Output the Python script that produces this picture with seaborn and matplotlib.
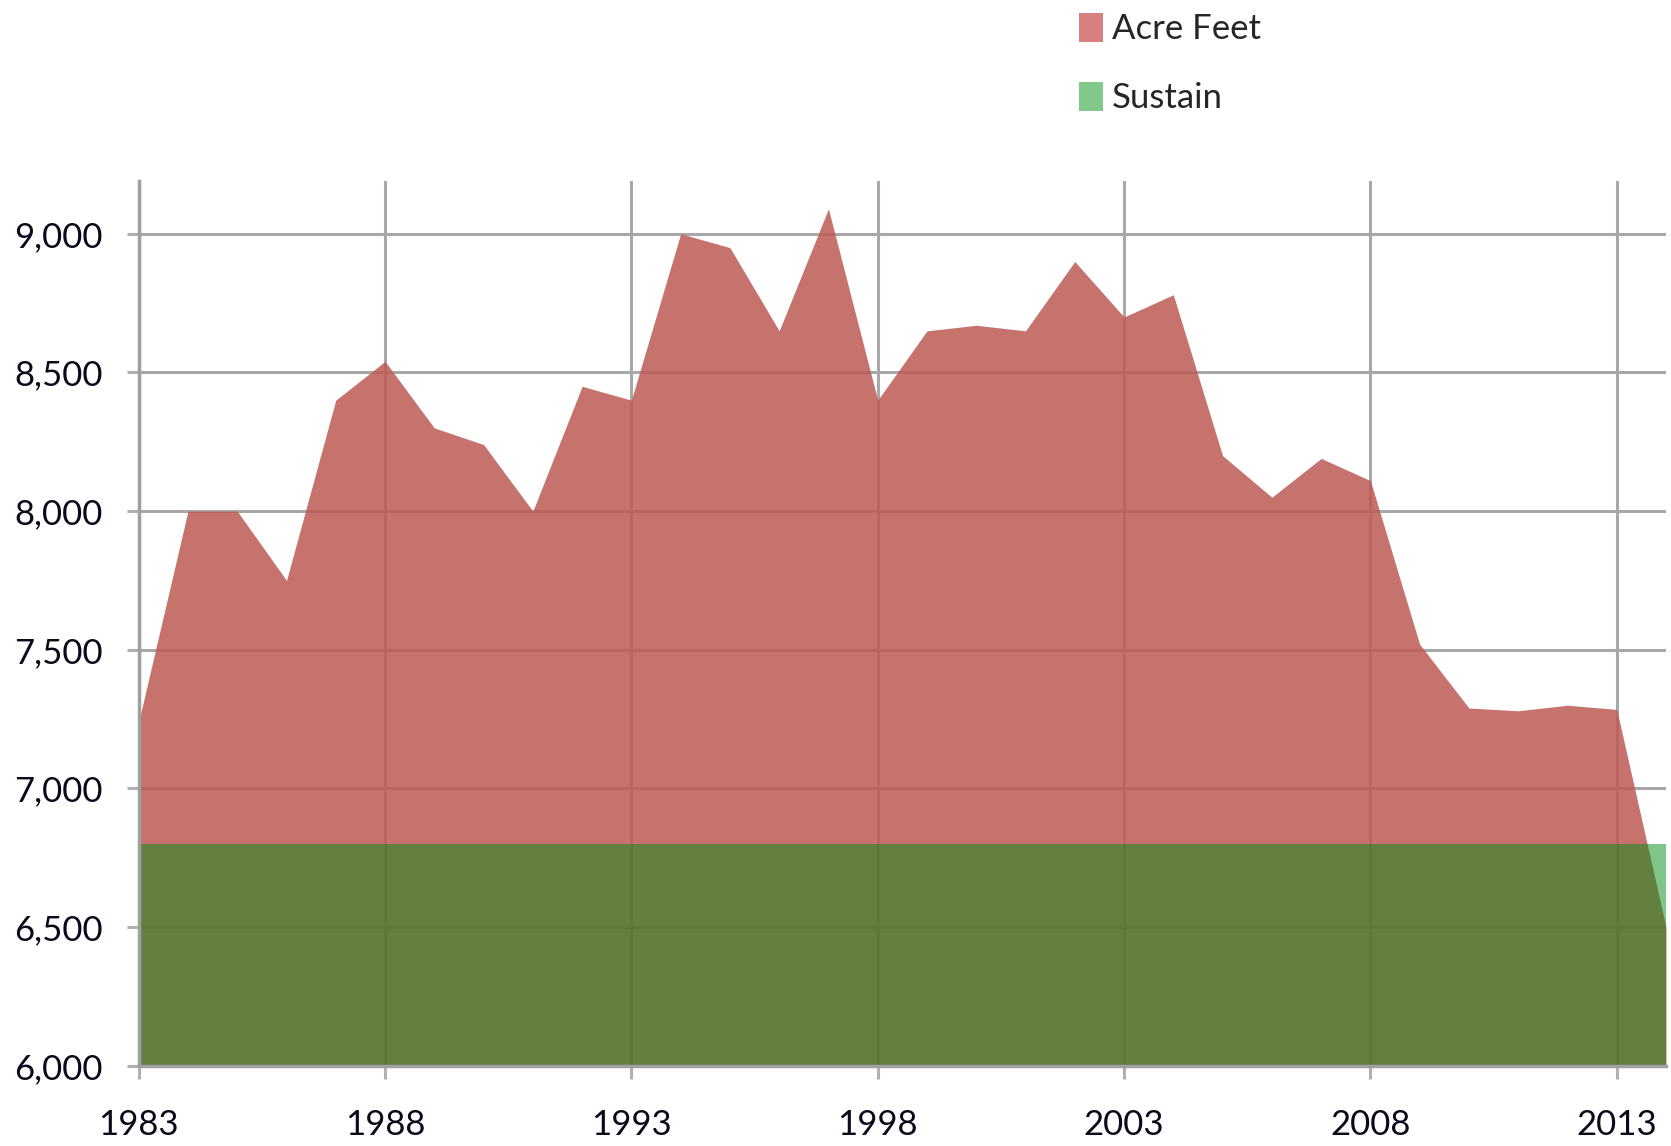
import numpy as np
import pandas as pd
import seaborn as sns
import matplotlib.pyplot as plt
from matplotlib.patches import Patch

years = list(range(1983, 2015))
acre_feet = [7240, 8000, 8000, 7750, 8400, 8540, 8300, 8240, 8000, 8450,
             8400, 9000, 8950, 8650, 9090, 8400, 8650, 8670, 8650, 8900,
             8700, 8780, 8200, 8050, 8190, 8110, 7520, 7290, 7280, 7300,
             7285, 6500]
sustain = [6800] * len(years)
x_ticks = [1983, 1988, 1993, 1998, 2003, 2008, 2013]
y_ticks = [6000, 6500, 7000, 7500, 8000, 8500, 9000]

df = pd.DataFrame({'year': years, 'Acre Feet': acre_feet, 'Sustain': sustain})

sns.set_theme(style='white')
plt.rcParams['font.family'] = ['Lato', 'DejaVu Sans']

fig = plt.figure(figsize=(16.71, 11.46), dpi=100)
ax = fig.add_axes([0.083, 0.070, 0.914, 0.772])

y_min = 6000
ax.fill_between(df['year'], y_min, df['Acre Feet'], color=(190/255, 90/255, 84/255),
                alpha=0.85, linewidth=0, zorder=2)
ax.fill_between(df['year'], y_min, df['Sustain'], color=(0, 141/255, 21/255),
                alpha=0.5, linewidth=0, zorder=3)

ax.set_xlim(1983, 2014)
ax.set_ylim(6000, 9190)
ax.set_xticks(x_ticks)
ax.set_yticks(y_ticks)
ax.set_yticklabels([f'{v:,}' for v in y_ticks])
ax.grid(True, color='#A8A8A8', linewidth=2.2, zorder=1)
ax.set_axisbelow(True)

for side in ['top', 'right']:
    ax.spines[side].set_visible(False)
for side in ['left', 'bottom']:
    ax.spines[side].set_color('#A0A0A0')
    ax.spines[side].set_linewidth(2.5)
    ax.spines[side].set_zorder(4)

ax.tick_params(axis='both', which='major', direction='out', length=9, width=2.2,
               color='#B0B0B0', labelsize=25, labelcolor='#0A0A1A')
ax.tick_params(axis='y', pad=17)
ax.tick_params(axis='x', pad=22)
ax.xaxis.set_tick_params(bottom=True)
ax.yaxis.set_tick_params(left=True)

handles = [Patch(facecolor='#D88080', edgecolor='none', label='Acre Feet'),
           Patch(facecolor='#80C88C', edgecolor='none', label='Sustain')]
fig.legend(handles=handles, loc='upper left', bbox_to_anchor=(0.627, 1.016),
           frameon=False, fontsize=25, handlelength=0.7, handleheight=0.9,
           handletextpad=0.25, labelspacing=1.05)

fig.savefig('out.png', dpi=100)
